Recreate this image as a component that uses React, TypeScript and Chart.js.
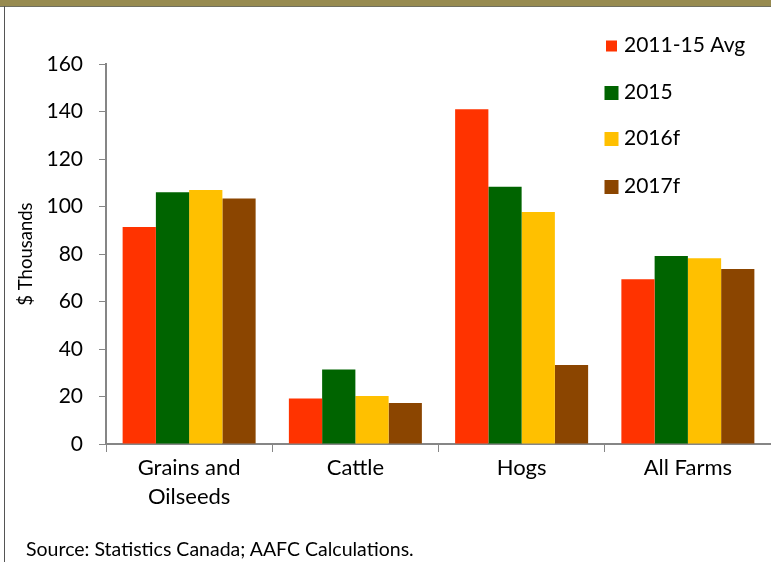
import React, { useEffect, useRef } from "react";
import { Chart, registerables } from "chart.js";

Chart.register(...registerables);

const categories: (string | string[])[] = [["Grains and", "Oilseeds"], "Cattle", "Hogs", "All Farms"];
const seriesNames = ["2011-15 Avg", "2015", "2016f", "2017f"];
const seriesColors = ["#FF3300", "#006400", "#FFC000", "#8B4500"];
const avg2011to15 = [91.4, 19.2, 141, 69.4];
const y2015 = [106, 31.4, 108.3, 79.2];
const y2016f = [107, 20.2, 97.7, 78.2];
const y2017f = [103.4, 17.3, 33.3, 73.7];
const yTicks = [0, 20, 40, 60, 80, 100, 120, 140, 160];

const FONT = "Lato, 'Open Sans', sans-serif";

// Legend drawn at the upper right, over the plot area, plus the vertical axis title
const sideLegend = {
  id: "sideLegend",
  afterDraw(chart: any) {
    const ctx = chart.ctx;
    ctx.save();
    ctx.font = `21px ${FONT}`;
    ctx.textBaseline = "middle";
    const rows = [45, 92, 138, 186];
    seriesNames.forEach((name, i) => {
      const size = i === 0 ? 11 : 14;
      const cx = 611.5;
      ctx.fillStyle = seriesColors[i];
      ctx.fillRect(cx - size / 2, rows[i] + 1 - size / 2, size, size);
      ctx.fillStyle = "#000";
      ctx.fillText(name, 624, rows[i]);
    });
    ctx.translate(26, 254);
    ctx.rotate(-Math.PI / 2);
    ctx.textAlign = "center";
    ctx.font = `18.5px ${FONT}`;
    ctx.fillText("$ Thousands", 0, 0);
    ctx.restore();
  },
};

export default function App() {
  const canvasRef = useRef<HTMLCanvasElement | null>(null);

  useEffect(() => {
    document.body.style.margin = "0";
    const values = [avg2011to15, y2015, y2016f, y2017f];
    const chart = new Chart(canvasRef.current!, {
      type: "bar",
      data: {
        labels: categories,
        datasets: seriesNames.map((name, i) => ({
          label: name,
          data: values[i],
          backgroundColor: seriesColors[i],
          borderWidth: 0,
          categoryPercentage: 0.8,
          barPercentage: 1.0,
        })),
      },
      options: {
        animation: false,
        responsive: false,
        layout: { padding: { top: 64, right: 0, left: 0, bottom: 0 } },
        plugins: { legend: { display: false }, tooltip: { enabled: false } },
        scales: {
          x: {
            grid: { drawOnChartArea: false, color: "#868686", tickLength: 8, offset: true },
            border: { color: "#868686", width: 2 },
            ticks: { color: "#000", font: { family: FONT, size: 22, lineHeight: 1.3 }, padding: 2, maxRotation: 0 },
            afterFit: (s: any) => { s.height = 118; },
          },
          y: {
            min: 0,
            max: 160,
            afterBuildTicks: (s: any) => { s.ticks = yTicks.map((v) => ({ value: v })); },
            grid: { drawOnChartArea: false, color: "#868686", tickLength: 7 },
            border: { color: "#868686", width: 2 },
            ticks: { color: "#000", font: { family: FONT, size: 21 }, padding: 16 },
            afterFit: (s: any) => { s.width = 106; },
          },
        },
      },
      plugins: [sideLegend],
    });
    return () => chart.destroy();
  }, []);

  return (
    <div style={{ position: "relative", width: 771, height: 562, background: "#fff", overflow: "hidden" }}>
      <div style={{ position: "absolute", left: 0, top: 0, width: 771, height: 6, background: "#978B50" }} />
      <div style={{ position: "absolute", left: 0, top: 6, width: 771, height: 1, background: "#707060" }} />
      <div style={{ position: "absolute", left: 4, top: 6, width: 1, height: 556, background: "#555" }} />
      <canvas ref={canvasRef} width={771} height={562} style={{ position: "absolute", left: 0, top: 0 }} />
      <div
        style={{
          position: "absolute",
          left: 26,
          top: 537,
          fontFamily: FONT,
          fontSize: 19.5,
          color: "#000",
          whiteSpace: "nowrap",
        }}
      >
        Source: Statistics Canada; AAFC Calculations.
      </div>
    </div>
  );
}
